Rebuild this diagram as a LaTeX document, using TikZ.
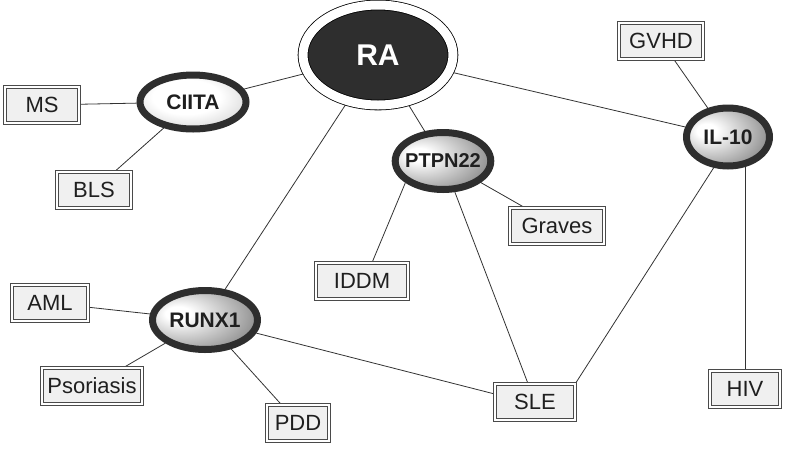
\documentclass[tikz,border=0pt]{standalone}
\usepackage{fontspec}
\setmainfont{Liberation Sans}
\usetikzlibrary{shapes.geometric, backgrounds}
\definecolor{ringgray}{HTML}{2E2E2E}
\definecolor{boxgray}{HTML}{F0F0F0}
\definecolor{edgegray}{HTML}{4A4A4A}
\pgfdeclareradialshading{geneshade}{\pgfpoint{-14bp}{6bp}}{color(0bp)=(white); color(6bp)=(white); color(26bp)=(gray!65); color(42bp)=(black!60); color(70bp)=(black!60)}
\pgfdeclareradialshading{genelight}{\pgfpoint{-4bp}{6bp}}{color(0bp)=(white); color(16bp)=(white); color(38bp)=(gray!45); color(70bp)=(gray!70)}
\tikzset{
x=1pt, y=-1pt, % one unit is one pixel of the reference, y runs down
hub/.style={ellipse, fill=ringgray, draw=black, line width=0.8pt, double=white, double distance=9pt, text=white, font=\fontsize{30}{34}\selectfont\bfseries, minimum width=150pt, minimum height=100pt, inner sep=0pt}, % the central disease
gene/.style={ellipse, draw=ringgray, line width=7pt, shading=geneshade, font=\fontsize{21}{24}\selectfont\bfseries, text=black!88, inner sep=0pt}, % gene ellipses
disease/.style={rectangle, draw=edgegray, line width=0.8pt, double=white, double distance=2.6pt, fill=boxgray, font=\fontsize{22}{25}\selectfont, text=black!88, minimum height=35.8pt, inner sep=0pt}, % framed boxes
link/.style={draw=black!80, line width=0.8pt}, % plain connectors
}
\begin{document}
\begin{tikzpicture}
        \useasboundingbox (0,0) rectangle (793,448);

        % Hub and genes
        \node[hub] (RA) at (378,55) {RA};
        \node[gene, shading=genelight, minimum width=106pt, minimum height=54pt] (CIITA) at (193,102) {CIITA};
        \node[gene, font=\fontsize{20}{24}\selectfont\bfseries, inner xsep=-4pt, minimum height=57pt] (PTPN) at (443,161) {PTPN22};
        \node[gene, minimum width=105pt, minimum height=59pt] (RUNX) at (205,320) {RUNX1};
        \node[gene, minimum width=83pt, minimum height=58pt] (IL10) at (728,137) {IL-10};

        % Diseases
        \node[disease, minimum width=73.8pt] (MS) at (42,105) {MS};
        \node[disease, minimum width=73.8pt] (BLS) at (94,190) {BLS};
        \node[disease, minimum width=83.8pt] (GVHD) at (661,41) {GVHD};
        \node[disease, minimum width=93.8pt] (Graves) at (557,226) {Graves};
        \node[disease, minimum width=91.8pt] (IDDM) at (362,281) {IDDM};
        \node[disease, minimum width=75.8pt] (AML) at (50,303) {AML};
        \node[disease, minimum width=99.8pt] (Psoriasis) at (92,386) {Psoriasis};
        \node[disease, minimum width=61.8pt] (PDD) at (298,423) {PDD};
        \node[disease, minimum width=79.8pt] (SLE) at (535,402) {SLE};
        \node[disease, minimum width=69.8pt] (HIV) at (745,389) {HIV};

        % Connectors, kept behind the nodes
        \begin{scope}[on background layer]
        \draw[link] (RA) -- (CIITA);
        \draw[link] (RA) -- (PTPN);
        \draw[link] (RA) -- (RUNX);
        \draw[link] (RA) -- (IL10);
        \draw[link] (CIITA) -- (MS);
        \draw[link] (CIITA) -- (BLS);
        \draw[link] (PTPN.-150) -- ([xshift=10pt]IDDM.north);
        \draw[link] (PTPN) -- (Graves);
        \draw[link] (PTPN) -- (SLE);
        \draw[link] (IL10) -- (GVHD);
        \draw[link] (IL10.-115) -- (SLE.north east);
        \draw[link] (HIV) -- (HIV |- IL10);
        \draw[link] (RUNX) -- (AML);
        \draw[link] (RUNX) -- (Psoriasis);
        \draw[link] (RUNX) -- (PDD);
        \draw[link] (RUNX) -- ([yshift=8pt]SLE.west);
        \end{scope}
    \end{tikzpicture}
\end{document}
